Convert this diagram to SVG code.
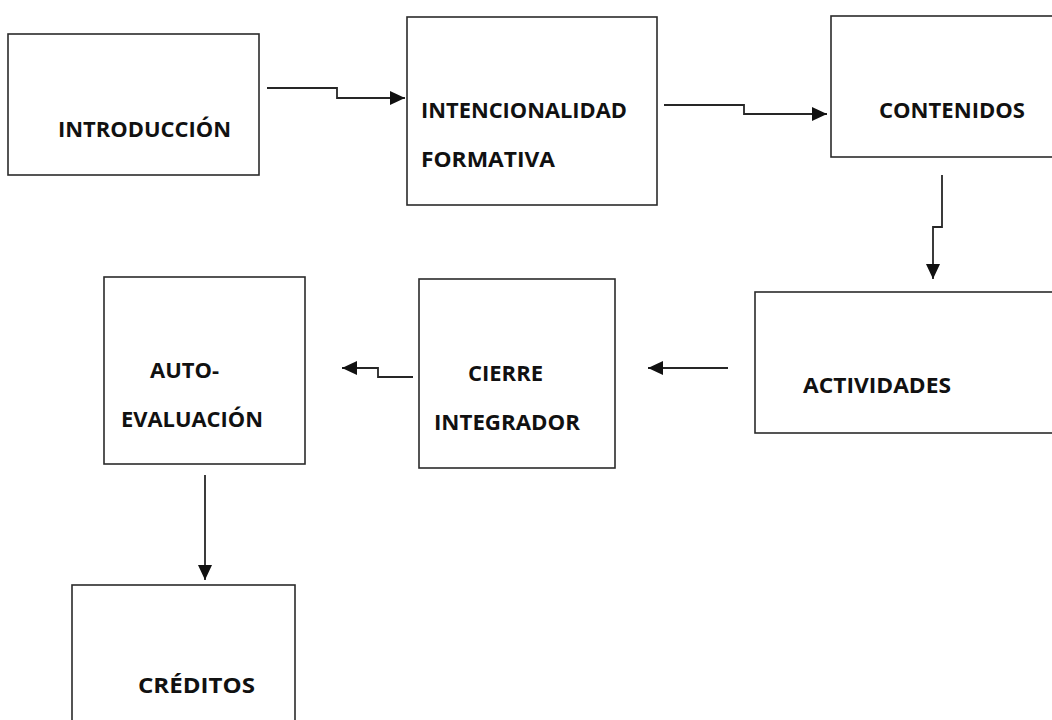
<svg xmlns="http://www.w3.org/2000/svg" width="1052" height="720" viewBox="0 0 1052 720">
  <style>
    .box { fill: #ffffff; stroke: #2b2b2b; stroke-width: 1.6; }
    .lbl { font-family: "Open Sans", "Noto Sans", "Liberation Sans", sans-serif; font-weight: bold; font-size: 22px; fill: #111111; }
    .wire { fill: none; stroke: #262626; stroke-width: 1.8; marker-end: url(#head); }
  </style>
  <defs>
    <marker id="head" markerUnits="userSpaceOnUse" markerWidth="16" markerHeight="15" refX="15" refY="7" orient="auto">
      <path d="M0,0 L15,7 L0,14 Z" fill="#111111"/>
    </marker>
  </defs>
  <rect width="1052" height="720" fill="#ffffff"/>

  <g id="introduccion">
    <rect class="box" x="8" y="34" width="251" height="141"/>
    <text class="lbl" x="58" y="137" textLength="173" lengthAdjust="spacingAndGlyphs">INTRODUCCIÓN</text>
  </g>

  <g id="intencionalidad">
    <rect class="box" x="407" y="17" width="250" height="188"/>
    <text class="lbl" x="421" y="118" textLength="206" lengthAdjust="spacingAndGlyphs">INTENCIONALIDAD</text>
    <text class="lbl" x="421" y="167" textLength="134" lengthAdjust="spacingAndGlyphs">FORMATIVA</text>
  </g>

  <g id="contenidos">
    <rect class="box" x="831" y="16" width="240" height="141"/>
    <text class="lbl" x="879" y="118" textLength="146" lengthAdjust="spacingAndGlyphs">CONTENIDOS</text>
  </g>

  <g id="actividades">
    <rect class="box" x="755" y="292" width="316" height="141"/>
    <text class="lbl" x="803" y="393" textLength="148" lengthAdjust="spacingAndGlyphs">ACTIVIDADES</text>
  </g>

  <g id="cierre">
    <rect class="box" x="419" y="279" width="196" height="189"/>
    <text class="lbl" x="468" y="381" textLength="75" lengthAdjust="spacingAndGlyphs">CIERRE</text>
    <text class="lbl" x="434" y="430" textLength="146" lengthAdjust="spacingAndGlyphs">INTEGRADOR</text>
  </g>

  <g id="autoevaluacion">
    <rect class="box" x="104" y="277" width="201" height="187"/>
    <text class="lbl" x="150" y="378" textLength="69" lengthAdjust="spacingAndGlyphs">AUTO-</text>
    <text class="lbl" x="121" y="427" textLength="142" lengthAdjust="spacingAndGlyphs">EVALUACIÓN</text>
  </g>

  <g id="creditos">
    <rect class="box" x="72" y="585" width="223" height="150"/>
    <text class="lbl" x="138" y="693" textLength="117" lengthAdjust="spacingAndGlyphs">CRÉDITOS</text>
  </g>

  <g id="connectors">
    <path class="wire" d="M267,88 H337 V98 H405"/>
    <path class="wire" d="M664,105 H744 V114 H827"/>
    <path class="wire" d="M942,175 V227 H933 V279"/>
    <path class="wire" d="M413,377 H378 V368 H342"/>
    <path class="wire" d="M728,368 H648"/>
    <path class="wire" d="M205,475 V580"/>
  </g>
</svg>
